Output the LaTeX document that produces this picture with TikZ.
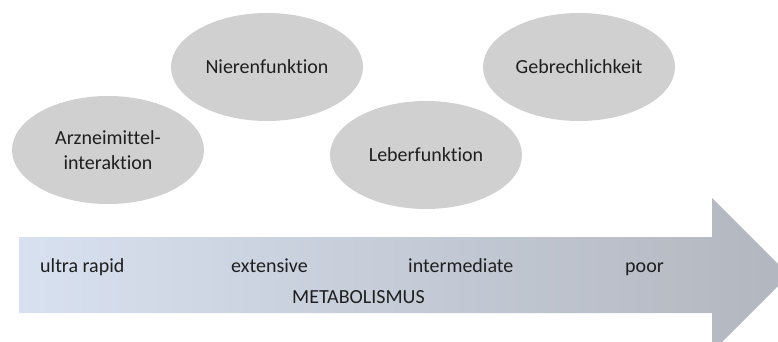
\documentclass[tikz,border=0pt]{standalone}
\usepackage{fontspec}
\setmainfont{Carlito}[Ligatures={NoCommon,NoContextual}]
\usetikzlibrary{shapes.geometric}
\definecolor{factorgray}{RGB}{208,208,209}
\definecolor{arrowleft}{RGB}{216,225,240}
\definecolor{arrowmid}{RGB}{186,203,230}
\definecolor{arrowright}{RGB}{178,182,190}
\tikzset{
  factor/.style={ellipse, fill=factorgray, minimum width=192pt, minimum height=108pt,
    inner sep=0pt, align=center, text=black!88, font=\fontsize{20}{25}\selectfont},
  level/.style={anchor=base west, inner sep=0pt, text=black!88, font=\fontsize{20}{25}\selectfont}
}
\begin{document}
\begin{tikzpicture}[x=1pt,y=-1pt]
    % Frame
    \useasboundingbox (0,0) rectangle (778,342);
    \clip (0,0) rectangle (778,342);
    % Metabolism arrow
    \shade[left color=arrowleft, middle color=arrowmid, right color=arrowright]
      (19,237) -- (712,237) -- (712,198) -- (789,275) -- (712,352) -- (712,313) -- (19,313) -- cycle;
    % Influencing factors
    \node[factor] (arznei) at (108,150) {Arzneimittel-\\interaktion};
    \node[factor] (niere) at (267,67) {Nierenfunktion};
    \node[factor] (leber) at (426,155) {Leberfunktion};
    \node[factor] (gebrech) at (579,67) {Gebrechlichkeit};
    % Metabolizer types
    \node[level] (ultra) at (40,272) {ultra rapid};
    \node[level] (extensive) at (231,272) {extensive};
    \node[level] (intermediate) at (408,272) {intermediate};
    \node[level] (poor) at (625,272) {poor};
    \node[level] (metab) at (292,303) {METABOLISMUS};
\end{tikzpicture}
\end{document}
